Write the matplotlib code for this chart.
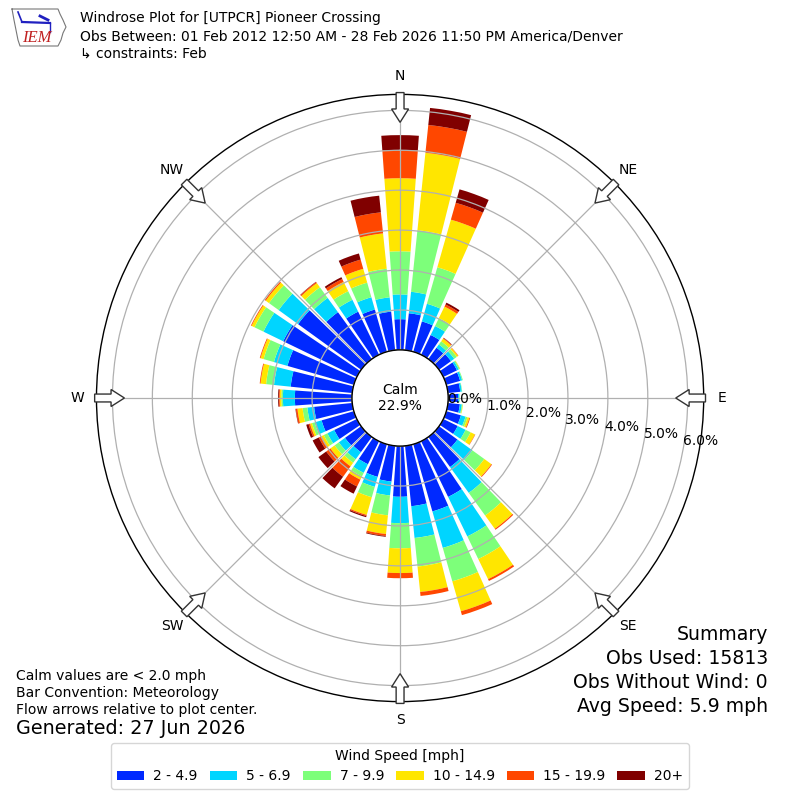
import numpy as np
import matplotlib
matplotlib.use("Agg")
import matplotlib.pyplot as plt
from matplotlib.patches import FancyArrow, Circle
from matplotlib.lines import Line2D

# ---------------- data ----------------
directions = list(range(0, 360, 10))
speed_labels = ["2 - 4.9", "5 - 6.9", "7 - 9.9", "10 - 14.9", "15 - 19.9", "20+"]
# percent frequency by direction (0..350 step 10) for each speed bin
spd_2_5 = [0.77, 0.93, 0.79, 0.55, 0.35, 0.37, 0.38, 0.36, 0.31, 0.25, 0.30, 0.38,
           0.40, 0.57, 0.93, 1.55, 1.75, 1.52, 1.27, 0.90, 0.85, 0.64, 0.47, 0.50,
           0.63, 0.84, 0.96, 1.43, 1.55, 1.73, 2.05, 1.95, 1.45, 1.20, 1.10, 0.97]
spd_5_7 = [0.62, 0.54, 0.46, 0.25, 0.10, 0.10, 0.05, 0.05, 0.04, 0.03, 0.05, 0.12,
           0.22, 0.46, 0.80, 1.10, 0.95, 0.80, 0.66, 0.35, 0.26, 0.24, 0.22, 0.19,
           0.19, 0.18, 0.17, 0.30, 0.42, 0.35, 0.55, 0.60, 0.44, 0.33, 0.32, 0.36]
spd_7_10 = [1.08, 1.55, 0.95, 0.22, 0.10, 0.08, 0.03, 0.02, 0.01, 0.01, 0.02, 0.05,
            0.14, 0.37, 0.70, 0.63, 0.87, 0.72, 0.63, 0.50, 0.27, 0.10, 0.11, 0.13,
            0.10, 0.07, 0.12, 0.04, 0.20, 0.27, 0.25, 0.30, 0.33, 0.24, 0.38, 0.72]
spd_10_15 = [1.83, 1.95, 1.24, 0.32, 0.08, 0.04, 0.01, 0.00, 0.00, 0.00, 0.01, 0.05,
             0.12, 0.22, 0.41, 0.56, 0.78, 0.64, 0.62, 0.47, 0.46, 0.09, 0.11, 0.13,
             0.07, 0.05, 0.13, 0.04, 0.14, 0.08, 0.08, 0.10, 0.13, 0.26, 0.36, 0.89]
spd_15_20 = [0.71, 0.70, 0.44, 0.06, 0.02, 0.01, 0.00, 0.00, 0.00, 0.00, 0.00, 0.02,
             0.01, 0.02, 0.03, 0.05, 0.10, 0.10, 0.13, 0.05, 0.03, 0.19, 0.32, 0.13,
             0.07, 0.04, 0.04, 0.02, 0.02, 0.02, 0.02, 0.03, 0.03, 0.08, 0.24, 0.53]
spd_20p = [0.37, 0.43, 0.35, 0.05, 0.01, 0.00, 0.00, 0.00, 0.00, 0.00, 0.00, 0.00,
           0.00, 0.00, 0.00, 0.00, 0.00, 0.00, 0.00, 0.02, 0.03, 0.20, 0.36, 0.24,
           0.17, 0.06, 0.01, 0.02, 0.00, 0.00, 0.00, 0.00, 0.01, 0.05, 0.16, 0.42]
series = [spd_2_5, spd_5_7, spd_7_10, spd_10_15, spd_15_20, spd_20p]
rticks = [0, 1, 2, 3, 4, 5, 6]
compass = ["N", "NE", "E", "SE", "S", "SW", "W", "NW"]
compass_deg = [0, 45, 90, 135, 180, 225, 270, 315]
calm_pct = 22.9

colors = plt.get_cmap("jet")(np.linspace(0, 1, len(series) + 1)[1:])

# ---------------- figure ----------------
fig = plt.figure(figsize=(8, 8), dpi=100)
ax = fig.add_axes([0.1206, 0.123, 0.759, 0.759], projection="polar")
ax.set_theta_zero_location("N")
ax.set_theta_direction(-1)

rmax = 6.4
rorig = -1.2046
theta = np.deg2rad(directions)
width = np.deg2rad(8.2)
bottom = np.zeros(len(directions))
handles = []
for vals, col, lab in zip(series, colors, speed_labels):
    v = np.array(vals)
    b = ax.bar(theta, v, width=width, bottom=bottom, color=col,
               edgecolor="none", label=lab, zorder=1)
    handles.append(b)
    bottom = bottom + v

ax.set_ylim(0, rmax)
ax.set_rorigin(rorig)
ax.set_yticks(rticks)
ax.set_yticklabels([f"{v:.1f}%" for v in rticks], fontsize=10)
ax.set_rlabel_position(100)
ax.set_xticks(np.deg2rad(compass_deg))
ax.set_xticklabels(compass, fontsize=10)
ax.tick_params(axis="x", pad=3)
ax.grid(True, color="#b0b0b0", linewidth=0.9)
ax.set_axisbelow(False)
ax.spines["polar"].set_linewidth(1.0)

# calm circle
r_in = 0.5 * (0 - rorig) / (rmax - rorig)
ax.add_patch(Circle((0.5, 0.5), r_in, transform=ax.transAxes, facecolor="white",
                    edgecolor="black", linewidth=1.0, zorder=4, clip_on=False))
ax.text(0.5, 0.5, f"Calm\n{calm_pct:.1f}%", transform=ax.transAxes, ha="center",
        va="center", fontsize=10, zorder=5)

# flow arrows on the outer ring, pointing to the plot center
for d in compass_deg:
    a = np.deg2rad(d)
    ux, uy = np.sin(a), np.cos(a)
    rs, re = 0.503, 0.454
    ax.add_patch(FancyArrow(0.5 + rs * ux, 0.5 + rs * uy, (re - rs) * ux, (re - rs) * uy,
                            width=0.013, head_width=0.028, head_length=0.022,
                            length_includes_head=True, facecolor="white",
                            edgecolor="#333333", linewidth=1.0,
                            transform=ax.transAxes, clip_on=False, zorder=6))

# ---------------- header ----------------
def fy(py):
    return 1 - py / 800.0

fig.text(80 / 800, fy(18), "Windrose Plot for [UTPCR] Pioneer Crossing", fontsize=10, va="center")
fig.text(80 / 800, fy(37), "Obs Between: 01 Feb 2012 12:50 AM - 28 Feb 2026 11:50 PM America/Denver",
         fontsize=10, va="center")
fig.text(80 / 800, fy(54), "\u21b3 constraints: Feb", fontsize=10, va="center")

# simple IEM logo
iowa_x = [12, 58, 60, 63, 66, 63, 61, 58, 20, 18, 16, 14, 12]
iowa_y = [9, 9, 14, 20, 27, 33, 40, 46, 46, 40, 30, 20, 9]
fig.add_artist(Line2D([x / 800 for x in iowa_x], [fy(y) for y in iowa_y],
                      transform=fig.transFigure, color="#777777", linewidth=0.8))
fig.add_artist(Line2D([22 / 800, 50 / 800], [fy(22), fy(23)], transform=fig.transFigure,
                      color="#2020c0", linewidth=1.6))
fig.add_artist(Line2D([18 / 800, 22 / 800], [fy(12), fy(22)], transform=fig.transFigure,
                      color="#2020c0", linewidth=1.2))
fig.add_artist(Line2D([40 / 800, 48 / 800], [fy(16), fy(20)], transform=fig.transFigure,
                      color="#2020c0", linewidth=2.0))
fig.add_artist(Line2D([50 / 800, 50 / 800], [fy(23), fy(32)], transform=fig.transFigure,
                      color="#2020c0", linewidth=1.0))
fig.text(37 / 800, fy(38), "IEM", fontsize=12, color="#c02020", family="Liberation Serif",
         style="italic", ha="center", va="center")

# ---------------- footer texts ----------------
fig.text(16 / 800, fy(676), "Calm values are < 2.0 mph", fontsize=10, va="center")
fig.text(16 / 800, fy(693), "Bar Convention: Meteorology", fontsize=10, va="center")
fig.text(16 / 800, fy(710), "Flow arrows relative to plot center.", fontsize=10, va="center")
fig.text(16 / 800, fy(729), "Generated: 27 Jun 2026", fontsize=13.8, va="center")

fig.text(768 / 800, fy(635), "Summary", fontsize=13.6, ha="right", va="center")
fig.text(768 / 800, fy(659), "Obs Used: 15813", fontsize=13.6, ha="right", va="center")
fig.text(768 / 800, fy(682), "Obs Without Wind: 0", fontsize=13.6, ha="right", va="center")
fig.text(768 / 800, fy(706), "Avg Speed: 5.9 mph", fontsize=13.6, ha="right", va="center")

fig.legend(handles, speed_labels, loc="center", bbox_to_anchor=(0.5, fy(766)), ncol=6,
           title="Wind Speed [mph]", fontsize=10, title_fontsize=10, frameon=True,
           fancybox=True, columnspacing=0.85, handletextpad=0.65)

fig.savefig("out.png", dpi=100)
